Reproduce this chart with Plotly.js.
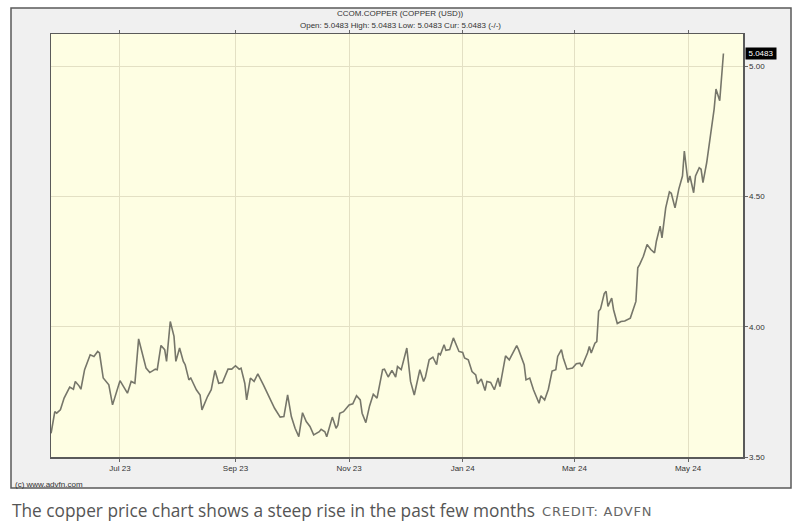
<!DOCTYPE html>
<html>
<head>
<meta charset="utf-8">
<script src="https://cdn.plot.ly/plotly-3.0.1.min.js"></script>
<style>
  html, body { margin: 0; padding: 0; background: #ffffff; }
  #chart { width: 800px; height: 524px; }
</style>
</head>
<body>
<div id="chart"></div>
<script>
// ---- Data ----
const dates = [
  '2023-05-25','2023-05-27','2023-05-28','2023-05-30','2023-06-01','2023-06-04','2023-06-06','2023-06-07','2023-06-09','2023-06-10',
  '2023-06-12','2023-06-15','2023-06-17','2023-06-19','2023-06-20','2023-06-22','2023-06-25','2023-06-27','2023-07-01','2023-07-05',
  '2023-07-07','2023-07-09','2023-07-11','2023-07-14','2023-07-15','2023-07-17','2023-07-20','2023-07-21','2023-07-23','2023-07-25',
  '2023-07-26','2023-07-28','2023-07-30','2023-07-31','2023-08-02','2023-08-04','2023-08-05','2023-08-07','2023-08-08','2023-08-11',
  '2023-08-13','2023-08-14','2023-08-17','2023-08-19','2023-08-21','2023-08-23','2023-08-25','2023-08-28','2023-08-30','2023-09-01',
  '2023-09-03','2023-09-04','2023-09-06','2023-09-07','2023-09-09','2023-09-11','2023-09-13','2023-09-16','2023-09-20','2023-09-22',
  '2023-09-25','2023-09-27','2023-09-29','2023-10-01','2023-10-03','2023-10-05','2023-10-07','2023-10-09','2023-10-11','2023-10-13',
  '2023-10-16','2023-10-17','2023-10-19','2023-10-20','2023-10-23','2023-10-25','2023-10-26','2023-10-27','2023-10-29','2023-11-01',
  '2023-11-03','2023-11-05','2023-11-07','2023-11-08','2023-11-10','2023-11-12','2023-11-14','2023-11-16','2023-11-19','2023-11-20',
  '2023-11-22','2023-11-24','2023-11-26','2023-11-27','2023-11-29','2023-12-02','2023-12-04','2023-12-06','2023-12-09','2023-12-11',
  '2023-12-12','2023-12-14','2023-12-16','2023-12-18','2023-12-19','2023-12-20','2023-12-22','2023-12-23','2023-12-25','2023-12-27',
  '2023-12-30','2024-01-01','2024-01-02','2024-01-04','2024-01-06','2024-01-08','2024-01-09','2024-01-11','2024-01-12','2024-01-13',
  '2024-01-14','2024-01-16','2024-01-18','2024-01-20','2024-01-21','2024-01-24','2024-01-26','2024-01-30','2024-01-31','2024-02-03',
  '2024-02-04','2024-02-06','2024-02-08','2024-02-10','2024-02-11','2024-02-12','2024-02-14','2024-02-16','2024-02-18','2024-02-20',
  '2024-02-21','2024-02-23','2024-02-24','2024-02-26','2024-02-29','2024-03-02','2024-03-04','2024-03-05','2024-03-08','2024-03-09',
  '2024-03-10','2024-03-12','2024-03-13','2024-03-14','2024-03-15','2024-03-17','2024-03-18','2024-03-19','2024-03-21','2024-03-22',
  '2024-03-24','2024-03-26','2024-03-28','2024-03-31','2024-04-03','2024-04-04','2024-04-05','2024-04-07','2024-04-09','2024-04-11',
  '2024-04-13','2024-04-14','2024-04-16','2024-04-17','2024-04-19','2024-04-21','2024-04-22','2024-04-24','2024-04-26','2024-04-28',
  '2024-04-29','2024-05-01','2024-05-02','2024-05-04','2024-05-05','2024-05-07','2024-05-08','2024-05-09','2024-05-11','2024-05-13',
  '2024-05-15','2024-05-16','2024-05-18','2024-05-20'
];
const prices = [
  3.591,3.674,3.668,3.681,3.726,3.768,3.760,3.790,3.773,3.760,
  3.835,3.892,3.886,3.905,3.899,3.803,3.777,3.700,3.793,3.745,
  3.790,3.783,3.953,3.873,3.841,3.824,3.837,3.835,3.928,3.912,
  3.867,4.020,3.963,3.867,3.918,3.867,3.854,3.796,3.803,3.758,
  3.738,3.681,3.732,3.758,3.832,3.783,3.786,3.837,3.837,3.850,
  3.837,3.841,3.783,3.719,3.803,3.790,3.819,3.777,3.713,3.687,
  3.653,3.655,3.738,3.655,3.610,3.578,3.670,3.636,3.617,3.585,
  3.597,3.606,3.597,3.578,3.653,3.610,3.623,3.668,3.674,3.700,
  3.704,3.735,3.719,3.668,3.632,3.696,3.741,3.726,3.835,3.837,
  3.807,3.832,3.807,3.847,3.835,3.918,3.790,3.738,3.835,3.790,
  3.807,3.873,3.883,3.854,3.899,3.892,3.931,3.909,3.912,3.957,
  3.905,3.901,3.880,3.873,3.828,3.815,3.781,3.799,3.777,3.755,
  3.790,3.786,3.758,3.803,3.770,3.888,3.873,3.927,3.912,3.854,
  3.796,3.803,3.758,3.719,3.706,3.735,3.719,3.760,3.830,3.835,
  3.886,3.912,3.880,3.837,3.841,3.858,3.860,3.847,3.899,3.924,
  3.899,3.937,3.943,4.059,4.068,4.127,4.136,4.078,4.110,4.065,
  4.012,4.020,4.022,4.033,4.097,4.226,4.238,4.270,4.315,4.296,
  4.283,4.328,4.386,4.341,4.456,4.517,4.512,4.456,4.527,4.578,
  4.674,4.553,4.578,4.514,4.578,4.610,4.604,4.553,4.629,4.732,
  4.835,4.912,4.867,5.0483
];
const yTicks = [3.5, 4.0, 4.5, 5.0];
const yTickLabels = ['3.50', '4.00', '4.50', '5.00'];
const titleLine1 = 'CCOM.COPPER (COPPER (USD))';
const titleLine2 = 'Open: 5.0483 High: 5.0483 Low: 5.0483 Cur: 5.0483 (-/-)';
const lastLabel = '5.0483';
const caption = 'The copper price chart shows a steep rise in the past few months';
const credit = 'CREDIT: ADVFN';
const copyright = '(c) www.advfn.com';

// ---- Chart ----
const W = 800, H = 524;
const M = { l: 51, r: 57, t: 34, b: 67 };
const pw = W - M.l - M.r, ph = H - M.t - M.b;
const px = x => (x - M.l) / pw;         // page pixel -> paper x
const py = y => (H - M.b - y) / ph;     // page pixel -> paper y

const smallFont = { family: 'Liberation Sans, Arial, sans-serif', size: 8, color: '#333333' };

const trace = {
  x: dates, y: prices, type: 'scatter', mode: 'lines',
  line: { color: '#76766a', width: 1.6 },
  hoverinfo: 'x+y'
};

const layout = {
  width: W, height: H,
  margin: M,
  paper_bgcolor: '#ffffff',
  plot_bgcolor: 'rgba(0,0,0,0)',
  showlegend: false,
  xaxis: {
    type: 'date',
    range: ['2023-05-24 23:00', '2024-05-30 12:00'],
    tick0: '2023-07-01', dtick: 'M2', tickformat: '%b %y',
    ticks: 'outside', ticklen: 3, tickcolor: '#666',
    showgrid: true, gridcolor: '#e3e0c4', gridwidth: 1,
    showline: true, linecolor: '#5a5a5a', linewidth: 1.5, mirror: 'ticks',
    zeroline: false,
    tickfont: smallFont
  },
  yaxis: {
    side: 'right',
    range: [3.5, 5.123],
    tickvals: yTicks, ticktext: yTickLabels,
    ticks: 'outside', ticklen: 3, tickcolor: '#666',
    showgrid: true, gridcolor: '#e3e0c4', gridwidth: 1,
    showline: true, linecolor: '#5a5a5a', linewidth: 1.5, mirror: true,
    zeroline: false,
    tickfont: smallFont
  },
  shapes: [
    { type: 'rect', xref: 'paper', yref: 'paper', layer: 'below',
      x0: px(11), x1: px(791), y0: py(488), y1: py(8),
      fillcolor: '#f0f0f0', line: { color: '#5a5a5a', width: 1.5 } },
    { type: 'rect', xref: 'paper', yref: 'paper', layer: 'below',
      x0: 0, x1: 1, y0: 0, y1: 1,
      fillcolor: '#fefee3', line: { width: 0 } }
  ],
  annotations: [
    { text: titleLine1, xref: 'paper', yref: 'paper', x: px(400), y: py(14),
      xanchor: 'center', yanchor: 'middle', showarrow: false, font: smallFont },
    { text: titleLine2, xref: 'paper', yref: 'paper', x: px(400), y: py(25),
      xanchor: 'center', yanchor: 'middle', showarrow: false, font: smallFont },
    { text: lastLabel, xref: 'paper', yref: 'y', x: 1, y: prices[prices.length - 1],
      xanchor: 'left', yanchor: 'middle', showarrow: false, xshift: 2,
      bgcolor: '#000000', borderpad: 1, width: 28,
      font: { family: 'Liberation Sans, Arial, sans-serif', size: 8, color: '#ffffff' } },
    { text: copyright, xref: 'paper', yref: 'paper', x: px(13), y: py(484),
      xanchor: 'left', yanchor: 'middle', showarrow: false, font: smallFont },
    { text: caption, xref: 'paper', yref: 'paper', x: px(10), y: py(510),
      xanchor: 'left', yanchor: 'middle', showarrow: false,
      font: { family: 'Open Sans, sans-serif', size: 17.3, color: '#555555' } },
    { text: credit, xref: 'paper', yref: 'paper', x: px(540), y: py(511),
      xanchor: 'left', yanchor: 'middle', align: 'left', showarrow: false,
      font: { family: 'DejaVu Sans, sans-serif', size: 13, color: '#666666' } }
  ]
};

Plotly.newPlot('chart', [trace], layout, { displayModeBar: false, staticPlot: true }).then(gd => {
  // slightly wider tracking on the credit line, as in the reference
  gd.querySelectorAll('.annotation-text').forEach(t => {
    if (t.textContent === credit) t.style.letterSpacing = '0.8px';
  });
});
</script>
</body>
</html>
